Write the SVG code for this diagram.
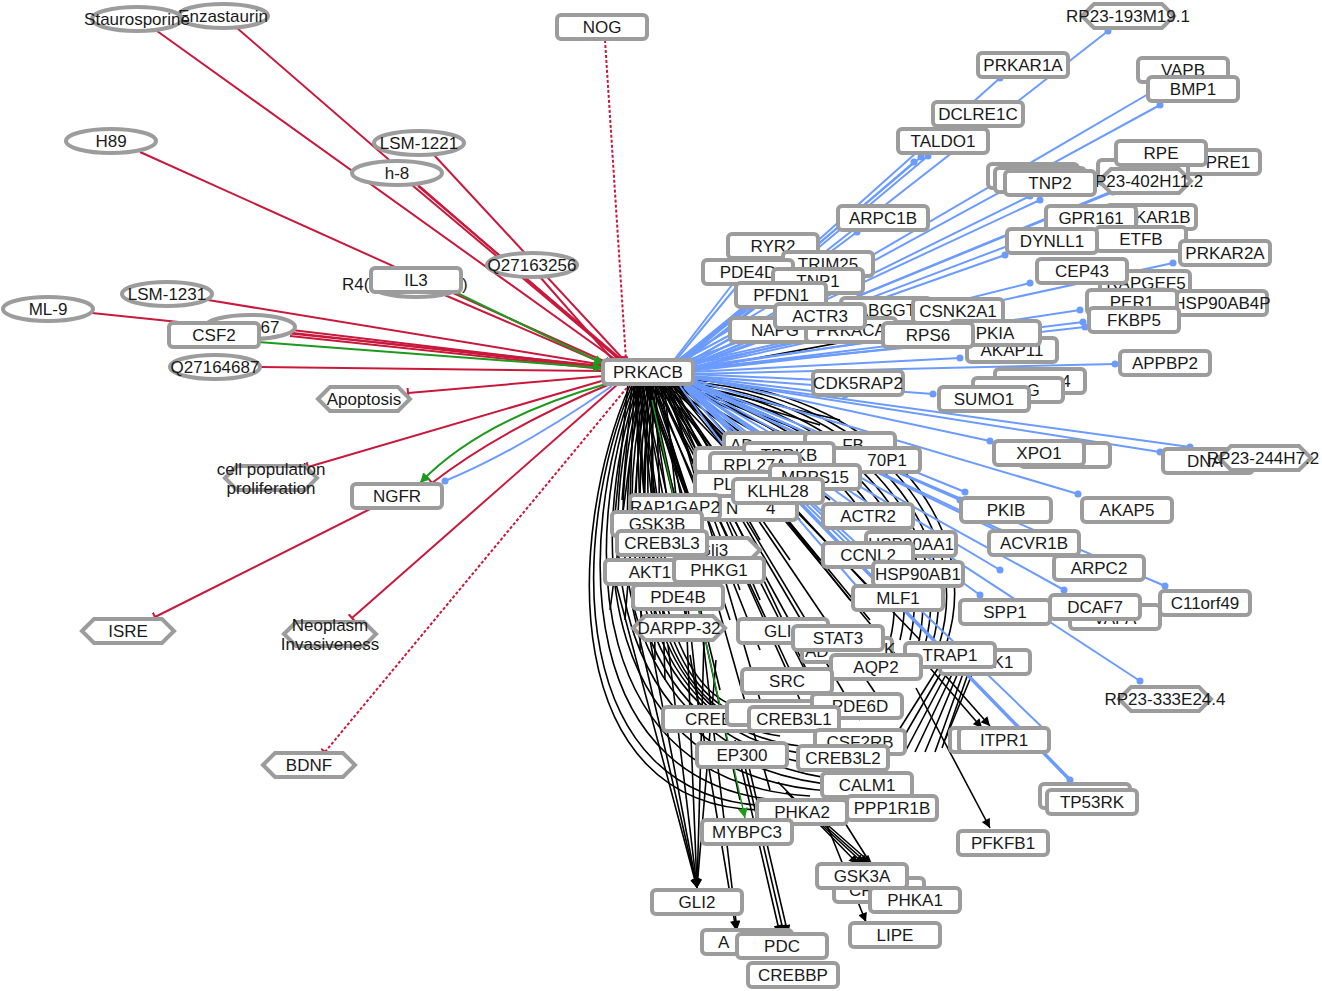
<svg xmlns="http://www.w3.org/2000/svg" xmlns:xlink="http://www.w3.org/1999/xlink" width="1322" height="991" viewBox="0 0 1322 991">
<style>
.n{fill:#fff;stroke:#9c9c9c;stroke-width:4}
.t{font-family:"Liberation Sans",Arial,sans-serif;font-size:17px;fill:#1a1a1a;text-anchor:middle}
.s{text-anchor:start}
.e{text-anchor:end}
.r{fill:none;stroke:#c8193c;stroke-width:2;marker-end:url(#tee)}
.rd{fill:none;stroke:#c8193c;stroke-width:2;stroke-dasharray:3 2;marker-end:url(#tee)}
.g{fill:none;stroke:#1d9a1d;stroke-width:2;marker-end:url(#ga)}
.b{fill:none;stroke:#6b9bff;stroke-width:2;marker-end:url(#dot)}
.k{fill:none;stroke:#000;stroke-width:1.6}
.ka{fill:none;stroke:#000;stroke-width:1.6;marker-end:url(#ka)}
</style>
<defs>
<marker id="tee" viewBox="0 0 4 10" refX="2" refY="5" markerWidth="4" markerHeight="10" orient="auto" markerUnits="userSpaceOnUse"><path d="M2,0V10" stroke="#c8193c" stroke-width="2"/></marker>
<marker id="ga" viewBox="0 0 10 10" refX="10" refY="5" markerWidth="10" markerHeight="10" orient="auto" markerUnits="userSpaceOnUse"><path d="M0,0L10,5L0,10z" fill="#1d9a1d"/></marker>
<marker id="ka" viewBox="0 0 10 10" refX="10" refY="5" markerWidth="10" markerHeight="9" orient="auto" markerUnits="userSpaceOnUse"><path d="M0,0L10,5L0,10z" fill="#000"/></marker>
<marker id="dot" viewBox="0 0 8 8" refX="4" refY="4" markerWidth="8" markerHeight="8" markerUnits="userSpaceOnUse"><circle cx="4" cy="4" r="3.5" fill="#6b9bff"/></marker>
<polygon id="hx" class="n" points="-46,0 -34,-12 34,-12 46,0 34,12 -34,12"/>
</defs>
<rect width="1322" height="991" fill="#fff"/>
<g id="connectors">
<!-- black -->
<path class="k" d="M692,370L990,315"/>
<path class="k" d="M630,385C564,540 560,806 760,810"/>
<path class="k" d="M632,385C568,540 566,800 770,806"/>
<path class="k" d="M634,385C574,540 576,792 790,801"/>
<path class="k" d="M636,385C580,540 586,784 810,796"/>
<path class="k" d="M638,385C586,540 596,776 830,791"/>
<path class="k" d="M640,385C592,540 606,768 845,786"/>
<path class="k" d="M642,385C598,540 616,758 850,781"/>
<path class="k" d="M644,385C604,540 626,748 830,766"/>
<path class="k" d="M646,385C610,540 634,738 820,756"/>
<path class="k" d="M648,385C616,540 642,728 800,746"/>
<path class="k" d="M650,385C622,540 650,718 780,736"/>
<path class="k" d="M652,385C628,540 656,706 760,726"/>
<path class="k" d="M654,385C634,540 662,694 745,716"/>
<path class="k" d="M656,385C640,540 668,684 735,706"/>
<path class="k" d="M692,380C872,390 988,520 946,645"/>
<path class="k" d="M692,382C862,395 978,520 939,645"/>
<path class="k" d="M692,384C852,400 968,520 932,645"/>
<path class="k" d="M690,386C842,405 958,520 925,645"/>
<path class="k" d="M690,388C832,410 948,520 918,645"/>
<path class="k" d="M688,390C822,415 938,520 910,640"/>
<path class="k" d="M686,390C812,420 928,525 900,640"/>
<path class="k" d="M684,390C802,425 918,530 890,640"/>
<path class="k" d="M636,384L640,515"/>
<path class="k" d="M640,384L660,515"/>
<path class="k" d="M644,384L690,505"/>
<path class="k" d="M646,384L700,530"/>
<path class="k" d="M648,384L712,560"/>
<path class="k" d="M650,384L680,585"/>
<path class="k" d="M652,384L730,620"/>
<path class="k" d="M654,384L760,650"/>
<path class="k" d="M656,384L790,670"/>
<path class="k" d="M658,384L800,700"/>
<path class="k" d="M660,384L820,700"/>
<path class="k" d="M662,384L860,720"/>
<path class="k" d="M664,384L700,720"/>
<path class="k" d="M666,384L880,700"/>
<path class="k" d="M668,384L760,700"/>
<path class="k" d="M670,384L840,740"/>
<path class="k" d="M672,384L900,660"/>
<path class="k" d="M674,384L920,640"/>
<path class="k" d="M676,384L870,620"/>
<path class="k" d="M678,384L850,600"/>
<path class="k" d="M634,384L650,560"/>
<path class="k" d="M638,384L670,590"/>
<path class="k" d="M642,384L690,640"/>
<path class="k" d="M646,384L720,690"/>
<path class="k" d="M650,384L740,800"/>
<path class="k" d="M655,384L770,790"/>
<path class="k" d="M660,384L800,640"/>
<path class="k" d="M664,384L830,660"/>
<path class="k" d="M668,384L790,560"/>
<path class="k" d="M672,384L760,540"/>
<path class="k" d="M676,384L820,560"/>
<path class="k" d="M680,384L880,600"/>
<path class="k" d="M632,384L622,500"/>
<path class="k" d="M634,384L630,500"/>
<path class="k" d="M637,384L645,500"/>
<path class="k" d="M639,384L652,500"/>
<path class="k" d="M642,384L668,500"/>
<path class="k" d="M645,384L676,500"/>
<path class="k" d="M648,384L684,500"/>
<path class="k" d="M651,384L694,480"/>
<path class="k" d="M654,384L702,470"/>
<path class="k" d="M657,384L710,460"/>
<path class="k" d="M660,384L718,455"/>
<path class="k" d="M663,384L726,450"/>
<path class="k" d="M666,384L735,445"/>
<path class="k" d="M669,384L745,440"/>
<path class="k" d="M672,384L760,435"/>
<path class="k" d="M675,384L780,432"/>
<path class="k" d="M678,384L800,430"/>
<path class="k" d="M682,384L820,425"/>
<path class="k" d="M686,384L840,420"/>
<path class="k" d="M640,384L610,610"/>
<path class="k" d="M644,384L625,620"/>
<path class="k" d="M648,384L640,650"/>
<path class="k" d="M652,384L655,660"/>
<path class="k" d="M656,384L665,680"/>
<path class="k" d="M660,384L700,600"/>
<path class="k" d="M664,384L740,590"/>
<path class="k" d="M668,384L760,600"/>
<path class="k" d="M672,384L800,520"/>
<path class="k" d="M676,384L830,500"/>
<path class="ka" d="M628,384L614,524"/>
<path class="ka" d="M615,580L697,888"/>
<path class="ka" d="M632,605L697,888"/>
<path class="ka" d="M650,640L697,888"/>
<path class="ka" d="M668,645L697,888"/>
<path class="ka" d="M686,610L697,888"/>
<path class="ka" d="M704,640L697,888"/>
<path class="ka" d="M716,660L697,888"/>
<path class="ka" d="M690,655L736,930"/>
<path class="ka" d="M703,640L737,930"/>
<path class="ka" d="M735,740L780,934"/>
<path class="ka" d="M740,745L784,934"/>
<path class="ka" d="M745,750L788,934"/>
<path class="ka" d="M778,782L858,864"/>
<path class="ka" d="M786,792L864,864"/>
<path class="ka" d="M796,800L868,864"/>
<path class="ka" d="M806,806L872,864"/>
<path class="ka" d="M825,820L866,922"/>
<path class="k" d="M840,815L886,888"/>
<path class="ka" d="M936,665L990,726"/>
<path class="ka" d="M930,668L982,728"/>
<path class="ka" d="M916,688L990,828"/>
<path class="k" d="M940,665L885,752"/>
<path class="k" d="M945,666L895,752"/>
<path class="k" d="M950,667L905,752"/>
<path class="k" d="M955,668L915,752"/>
<path class="k" d="M960,668L925,752"/>
<path class="k" d="M965,668L935,752"/>
<path class="k" d="M970,668L942,748"/>
<path class="k" d="M975,667L945,740"/>
<!-- blue -->
<path class="b" d="M684,362L1108,31"/>
<path class="b" d="M683,361L1000,78"/>
<path class="b" d="M686,363L1160,105"/>
<path class="b" d="M686,364L1150,93"/>
<path class="b" d="M680,361L921,157"/>
<path class="b" d="M681,362L914,162"/>
<path class="b" d="M682,362L928,156"/>
<path class="b" d="M686,365L1040,200"/>
<path class="b" d="M686,366L1030,196"/>
<path class="b" d="M688,366L1113,192"/>
<path class="b" d="M688,366L1125,186"/>
<path class="b" d="M682,363L857,232"/>
<path class="b" d="M688,367L1005,255"/>
<path class="b" d="M688,367L1050,230"/>
<path class="b" d="M690,368L1173,263"/>
<path class="b" d="M689,368L1030,283"/>
<path class="b" d="M690,369L1080,310"/>
<path class="b" d="M690,370L1083,322"/>
<path class="b" d="M690,371L1085,327"/>
<path class="b" d="M690,372L960,358"/>
<path class="b" d="M692,374L1115,364"/>
<path class="b" d="M692,376L933,394"/>
<path class="b" d="M692,377L990,441"/>
<path class="b" d="M692,378L1160,452"/>
<path class="b" d="M692,378L1190,447"/>
<path class="b" d="M690,380L965,492"/>
<path class="b" d="M690,381L960,500"/>
<path class="b" d="M690,379L1078,494"/>
<path class="b" d="M688,382L1165,586"/>
<path class="b" d="M688,382L1064,590"/>
<path class="b" d="M686,383L980,595"/>
<path class="b" d="M686,384L1140,681"/>
<path class="b" d="M684,384L1070,780" style="stroke-width:3.5"/>
<path class="b" d="M686,384L1045,730"/>
<path class="b" d="M676,360L760,258"/>
<path class="b" d="M674,360L735,281"/>
<path class="b" d="M678,360L800,272"/>
<path class="b" d="M678,361L795,290"/>
<path class="b" d="M676,362L752,300"/>
<path class="b" d="M680,363L795,322"/>
<path class="b" d="M676,364L745,327"/>
<path class="b" d="M682,365L830,332"/>
<path class="b" d="M684,366L915,318"/>
<path class="b" d="M686,368L900,338"/>
<path class="b" d="M688,369L965,342"/>
<path class="b" d="M688,374L820,380"/>
<path class="b" d="M688,376L845,395"/>
<path class="b" d="M684,384L775,443"/>
<path class="b" d="M684,385L790,470"/>
<path class="b" d="M686,385L840,505"/>
<path class="b" d="M684,386L848,545"/>
<path class="b" d="M686,386L880,565"/>
<path class="b" d="M684,387L860,590"/>
<path class="b" d="M680,386L750,482"/>
<path class="b" d="M688,384L1000,570"/>
<path class="b" d="M690,382L1000,532"/>
<path class="b" d="M690,382L1060,558"/>
<path class="b" d="M612,386Q520,450 445,481"/>
<!-- red -->
<path class="r" d="M157,31L616,360"/>
<path class="r" d="M237,28L620,360"/>
<path class="r" d="M434,155L624,360"/>
<path class="r" d="M412,185L620,360"/>
<path class="r" d="M418,186L622,360"/>
<path class="r" d="M140,152L606,362"/>
<path class="r" d="M540,277L613,360"/>
<path class="r" d="M440,293L605,364"/>
<path class="r" d="M208,300L604,365"/>
<path class="r" d="M92,313L603,366"/>
<path class="r" d="M292,330L603,367"/>
<path class="r" d="M293,333L603,368"/>
<path class="r" d="M290,336L603,369"/>
<path class="r" d="M261,367L603,371"/>
<path class="r" d="M604,376L408,393"/>
<path class="r" d="M605,380L308,467"/>
<path class="r" d="M610,384Q500,430 432,483"/>
<path class="r" d="M372,508L155,617"/>
<path class="r" d="M618,384L352,618"/>
<path class="rd" d="M630,384L325,752"/>
<path class="rd" d="M605,40L626,360"/>
<!-- green -->
<path class="g" d="M455,292L604,364"/>
<path class="g" d="M258,342L603,368"/>
<path class="g" d="M606,384Q480,420 420,483"/>
<path class="g" d="M652,400L745,818" style="stroke-width:1.4"/>
</g>
<g id="nodes">
<g id="Enzastaurin"><ellipse class="n" cx="223" cy="16" rx="45" ry="12"/><text class="t" x="223" y="22">Enzastaurin</text></g>
<g id="Staurosporine"><ellipse class="n" cx="137" cy="19" rx="45" ry="12"/><text class="t" x="137" y="25">Staurosporine</text></g>
<g id="NOG"><rect class="n" x="557" y="15" width="90" height="24" rx="4"/><text class="t" x="602" y="33">NOG</text></g>
<g id="H89"><ellipse class="n" cx="111" cy="141" rx="45" ry="12"/><text class="t" x="111" y="147">H89</text></g>
<g id="LSM-1221"><ellipse class="n" cx="419" cy="143" rx="45" ry="12"/><text class="t" x="419" y="149">LSM-1221</text></g>
<g id="h-8"><ellipse class="n" cx="397" cy="173" rx="45" ry="12"/><text class="t" x="397" y="179">h-8</text></g>
<g id="Q27163256"><ellipse class="n" cx="532" cy="265" rx="45" ry="12"/><text class="t" x="532" y="271">Q27163256</text></g>
<g id="R4"><ellipse class="n" cx="416" cy="285" rx="45" ry="12"/><text class="t s" x="342" y="290">R4(</text><text class="t s" x="462" y="290">)</text></g>
<g id="IL3"><rect class="n" x="371" y="268" width="90" height="24" rx="4"/><text class="t" x="416" y="286">IL3</text></g>
<g id="LSM-1231"><ellipse class="n" cx="167" cy="294" rx="45" ry="12"/><text class="t" x="167" y="300">LSM-1231</text></g>
<g id="ML-9"><ellipse class="n" cx="48" cy="309" rx="45" ry="12"/><text class="t" x="48" y="315">ML-9</text></g>
<g id="E67"><ellipse class="n" cx="250" cy="327" rx="45" ry="12"/><text class="t" x="270" y="333">67</text></g>
<g id="CSF2"><rect class="n" x="169" y="323" width="90" height="24" rx="4"/><text class="t" x="214" y="341">CSF2</text></g>
<g id="Q27164687"><ellipse class="n" cx="215" cy="367" rx="45" ry="12"/><text class="t" x="215" y="373">Q27164687</text></g>
<g id="Apoptosis"><use href="#hx" x="364" y="399"/><text class="t" x="364" y="405">Apoptosis</text></g>
<g id="cellpop"><use href="#hx" x="271" y="478"/><text class="t" x="271" y="475">cell population</text><text class="t" x="271" y="494">proliferation</text></g>
<g id="NGFR"><rect class="n" x="352" y="484" width="90" height="24" rx="4"/><text class="t" x="397" y="502">NGFR</text></g>
<g id="ISRE"><use href="#hx" x="128" y="631"/><text class="t" x="128" y="637">ISRE</text></g>
<g id="Neoplasm"><use href="#hx" x="330" y="634"/><text class="t" x="330" y="631">Neoplasm</text><text class="t" x="330" y="650">Invasiveness</text></g>
<g id="BDNF"><use href="#hx" x="309" y="765"/><text class="t" x="309" y="771">BDNF</text></g>
<g id="PRKACB"><rect class="n" x="603" y="360" width="90" height="24" rx="4"/><text class="t" x="648" y="378">PRKACB</text></g>

<g id="RP23-193M19.1"><use href="#hx" x="1128" y="16"/><text class="t" x="1128" y="22">RP23-193M19.1</text></g>
<g id="PRKAR1A"><rect class="n" x="978" y="53" width="90" height="24" rx="4"/><text class="t" x="1023" y="71">PRKAR1A</text></g>
<g id="VAPB"><rect class="n" x="1138" y="58" width="90" height="24" rx="4"/><text class="t" x="1183" y="76">VAPB</text></g>
<g id="BMP1"><rect class="n" x="1148" y="77" width="90" height="24" rx="4"/><text class="t" x="1193" y="95">BMP1</text></g>
<g id="DCLRE1C"><rect class="n" x="933" y="102" width="90" height="24" rx="4"/><text class="t" x="978" y="120">DCLRE1C</text></g>
<g id="TALDO1"><rect class="n" x="898" y="129" width="90" height="24" rx="4"/><text class="t" x="943" y="147">TALDO1</text></g>
<g id="PRE1"><rect class="n" x="1170" y="150" width="90" height="24" rx="4"/><text class="t" x="1228" y="168">PRE1</text></g>
<g id="hidA"><rect class="n" x="1098" y="160" width="90" height="24" rx="4"/></g>
<g id="RPE"><rect class="n" x="1116" y="141" width="90" height="24" rx="4"/><text class="t" x="1161" y="159">RPE</text></g>
<g id="RP23-402H11.2"><use href="#hx" x="1145" y="181"/><text class="t" x="1143" y="187">RP23-402H11.2</text></g>
<g id="hidB"><rect class="n" x="988" y="164" width="90" height="24" rx="4"/></g>
<g id="hidC"><rect class="n" x="995" y="168" width="90" height="24" rx="4"/></g>
<g id="TNP2"><rect class="n" x="1005" y="171" width="90" height="24" rx="4"/><text class="t" x="1050" y="189">TNP2</text></g>
<g id="ARPC1B"><rect class="n" x="838" y="206" width="90" height="24" rx="4"/><text class="t" x="883" y="224">ARPC1B</text></g>
<g id="PRKAR1B"><rect class="n" x="1106" y="205" width="90" height="24" rx="4"/><text class="t" x="1151" y="223">PRKAR1B</text></g>
<g id="GPR161"><rect class="n" x="1046" y="206" width="90" height="24" rx="4"/><text class="t" x="1091" y="224">GPR161</text></g>
<g id="ETFB"><rect class="n" x="1096" y="227" width="90" height="24" rx="4"/><text class="t" x="1141" y="245">ETFB</text></g>
<g id="DYNLL1"><rect class="n" x="1007" y="229" width="90" height="24" rx="4"/><text class="t" x="1052" y="247">DYNLL1</text></g>
<g id="PRKAR2A"><rect class="n" x="1180" y="241" width="90" height="24" rx="4"/><text class="t" x="1225" y="259">PRKAR2A</text></g>
<g id="RAPGEF5"><rect class="n" x="1100" y="271" width="90" height="24" rx="4"/><text class="t" x="1146" y="289">RAPGEF5</text></g>
<g id="CEP43"><rect class="n" x="1037" y="259" width="90" height="24" rx="4"/><text class="t" x="1082" y="277">CEP43</text></g>
<g id="HSP90AB4P"><rect class="n" x="1177" y="291" width="90" height="24" rx="4"/><text class="t" x="1222" y="309">HSP90AB4P</text></g>
<g id="PER1"><rect class="n" x="1087" y="290" width="90" height="24" rx="4"/><text class="t" x="1132" y="308">PER1</text></g>
<g id="FKBP5"><rect class="n" x="1089" y="308" width="90" height="24" rx="4"/><text class="t" x="1134" y="326">FKBP5</text></g>
<g id="RYR2"><rect class="n" x="728" y="234" width="90" height="24" rx="4"/><text class="t" x="773" y="252">RYR2</text></g>
<g id="TRIM25"><rect class="n" x="783" y="252" width="90" height="24" rx="4"/><text class="t" x="828" y="270">TRIM25</text></g>
<g id="PDE4D"><rect class="n" x="703" y="260" width="90" height="24" rx="4"/><text class="t" x="748" y="278">PDE4D</text></g>
<g id="TNP1"><rect class="n" x="773" y="269" width="90" height="24" rx="4"/><text class="t" x="818" y="287">TNP1</text></g>
<g id="PFDN1"><rect class="n" x="736" y="283" width="90" height="24" rx="4"/><text class="t" x="781" y="301">PFDN1</text></g>
<g id="RABGGTB"><rect class="n" x="841" y="298" width="90" height="24" rx="4"/><text class="t" x="886" y="316">RABGGTB</text></g>
<g id="NAPG"><rect class="n" x="730" y="318" width="90" height="24" rx="4"/><text class="t" x="775" y="336">NAPG</text></g>
<g id="PRKACA"><rect class="n" x="806" y="318" width="90" height="24" rx="4"/><text class="t" x="851" y="336">PRKACA</text></g>
<g id="ACTR3"><rect class="n" x="775" y="304" width="90" height="24" rx="4"/><text class="t" x="820" y="322">ACTR3</text></g>
<g id="CSNK2A1"><rect class="n" x="913" y="299" width="90" height="24" rx="4"/><text class="t" x="958" y="317">CSNK2A1</text></g>
<g id="AKAP11"><rect class="n" x="967" y="338" width="90" height="24" rx="4"/><text class="t" x="1012" y="356">AKAP11</text></g>
<g id="PKIA"><rect class="n" x="950" y="321" width="90" height="24" rx="4"/><text class="t" x="995" y="339">PKIA</text></g>
<g id="RPS6"><rect class="n" x="883" y="323" width="90" height="24" rx="4"/><text class="t" x="928" y="341">RPS6</text></g>
<g id="APPBP2"><rect class="n" x="1120" y="351" width="90" height="24" rx="4"/><text class="t" x="1165" y="369">APPBP2</text></g>
<g id="CDK5RAP2"><rect class="n" x="813" y="371" width="90" height="24" rx="4"/><text class="t" x="858" y="389">CDK5RAP2</text></g>
<g id="N4x"><rect class="n" x="995" y="369" width="90" height="24" rx="4"/><text class="t" x="1066" y="387">4</text></g>
<g id="NGx"><rect class="n" x="973" y="378" width="90" height="24" rx="4"/><text class="t" x="1033" y="396">G</text></g>
<g id="SUMO1"><rect class="n" x="939" y="387" width="90" height="24" rx="4"/><text class="t" x="984" y="405">SUMO1</text></g>
<g id="XPOb"><rect class="n" x="1020" y="443" width="90" height="24" rx="4"/></g>
<g id="XPO1"><rect class="n" x="994" y="441" width="90" height="24" rx="4"/><text class="t" x="1039" y="459">XPO1</text></g>
<g id="DNA"><rect class="n" x="1163" y="449" width="90" height="24" rx="4"/><text class="t s" x="1187" y="467">DNA</text></g>
<g id="RP23-244H7.2"><use href="#hx" x="1265" y="458"/><text class="t" x="1263" y="464">RP23-244H7.2</text></g>
<g id="PKIB"><rect class="n" x="961" y="498" width="90" height="24" rx="4"/><text class="t" x="1006" y="516">PKIB</text></g>
<g id="AKAP5"><rect class="n" x="1082" y="498" width="90" height="24" rx="4"/><text class="t" x="1127" y="516">AKAP5</text></g>
<g id="ACVR1B"><rect class="n" x="989" y="531" width="90" height="24" rx="4"/><text class="t" x="1034" y="549">ACVR1B</text></g>
<g id="ARPC2"><rect class="n" x="1054" y="556" width="90" height="24" rx="4"/><text class="t" x="1099" y="574">ARPC2</text></g>
<g id="VAPA"><rect class="n" x="1070" y="605" width="90" height="24" rx="4"/><text class="t" x="1115" y="624">VAPA</text></g>
<g id="DCAF7"><rect class="n" x="1050" y="595" width="90" height="24" rx="4"/><text class="t" x="1095" y="613">DCAF7</text></g>
<g id="C11orf49"><rect class="n" x="1160" y="591" width="90" height="24" rx="4"/><text class="t" x="1205" y="609">C11orf49</text></g>
<g id="SPP1"><rect class="n" x="960" y="600" width="90" height="24" rx="4"/><text class="t" x="1005" y="618">SPP1</text></g>
<g id="RP23-333E24.4"><use href="#hx" x="1165" y="699"/><text class="t" x="1165" y="705">RP23-333E24.4</text></g>
<g id="K1x"><rect class="n" x="940" y="650" width="90" height="24" rx="4"/><text class="t" x="1003" y="668">K1</text></g>
<g id="TRAP1"><rect class="n" x="905" y="643" width="90" height="24" rx="4"/><text class="t" x="950" y="661">TRAP1</text></g>
<g id="ITPR1b"><rect class="n" x="950" y="728" width="90" height="24" rx="4"/></g>
<g id="ITPR1"><rect class="n" x="959" y="728" width="90" height="24" rx="4"/><text class="t" x="1004" y="746">ITPR1</text></g>
<g id="TP53RKb"><rect class="n" x="1040" y="784" width="90" height="24" rx="4"/></g>
<g id="TP53RK"><rect class="n" x="1047" y="790" width="90" height="24" rx="4"/><text class="t" x="1092" y="808">TP53RK</text></g>
<g id="PFKFB1"><rect class="n" x="958" y="831" width="90" height="24" rx="4"/><text class="t" x="1003" y="849">PFKFB1</text></g>

<g id="ADx"><rect class="n" x="724" y="433" width="90" height="24" rx="4"/><text class="t s" x="730" y="451">AD</text></g>
<g id="FBx"><rect class="n" x="805" y="433" width="90" height="24" rx="4"/><text class="t" x="853" y="451">FB</text></g>
<g id="P70x"><rect class="n" x="830" y="448" width="90" height="24" rx="4"/><text class="t e" x="907" y="466">70P1</text></g>
<g id="blank1"><rect class="n" x="695" y="448" width="90" height="24" rx="4"/></g>
<g id="TPRKB"><rect class="n" x="744" y="443" width="90" height="24" rx="4"/><text class="t" x="789" y="461">TPRKB</text></g>
<g id="RPL27A"><rect class="n" x="710" y="453" width="90" height="24" rx="4"/><text class="t" x="755" y="471">RPL27A</text></g>
<g id="PLx"><rect class="n" x="695" y="472" width="90" height="24" rx="4"/><text class="t s" x="713" y="490">PL</text></g>
<g id="MRPS15"><rect class="n" x="770" y="465" width="90" height="24" rx="4"/><text class="t" x="815" y="483">MRPS15</text></g>
<g id="N4"><rect class="n" x="707" y="496" width="90" height="24" rx="4"/><text class="t s" x="726" y="514">N</text><text class="t s" x="766" y="514">4</text></g>
<g id="KLHL28"><rect class="n" x="733" y="479" width="90" height="24" rx="4"/><text class="t" x="778" y="497">KLHL28</text></g>
<g id="RAP1GAP2"><rect class="n" x="630" y="495" width="90" height="24" rx="4"/><text class="t" x="675" y="513">RAP1GAP2</text></g>
<g id="GSK3B"><rect class="n" x="612" y="512" width="90" height="24" rx="4"/><text class="t" x="657" y="530">GSK3B</text></g>
<g id="ACTR2"><rect class="n" x="823" y="504" width="90" height="24" rx="4"/><text class="t" x="868" y="522">ACTR2</text></g>
<g id="HSP90AA1"><rect class="n" x="866" y="532" width="90" height="24" rx="4"/><text class="t" x="911" y="550">HSP90AA1</text></g>
<g id="CCNL2"><rect class="n" x="823" y="543" width="90" height="24" rx="4"/><text class="t" x="868" y="561">CCNL2</text></g>
<g id="Gli3"><use href="#hx" x="714" y="550"/><text class="t" x="713" y="556">Gli3</text></g>
<g id="CREB3L3"><rect class="n" x="617" y="531" width="90" height="24" rx="4"/><text class="t" x="662" y="549">CREB3L3</text></g>
<g id="AKT1"><rect class="n" x="605" y="560" width="90" height="24" rx="4"/><text class="t" x="650" y="578">AKT1</text></g>
<g id="PHKG1"><rect class="n" x="674" y="558" width="90" height="24" rx="4"/><text class="t" x="719" y="576">PHKG1</text></g>
<g id="HSP90AB1"><rect class="n" x="873" y="562" width="90" height="24" rx="4"/><text class="t" x="918" y="580">HSP90AB1</text></g>
<g id="PDE4B"><rect class="n" x="633" y="585" width="90" height="24" rx="4"/><text class="t" x="678" y="603">PDE4B</text></g>
<g id="MLF1"><rect class="n" x="853" y="586" width="90" height="24" rx="4"/><text class="t" x="898" y="604">MLF1</text></g>
<g id="DARPP-32"><use href="#hx" x="679" y="628"/><text class="t" x="679" y="634">DARPP-32</text></g>
<g id="GLIx"><rect class="n" x="738" y="619" width="90" height="24" rx="4"/><text class="t s" x="764" y="637">GLI</text></g>
<g id="ADKx"><rect class="n" x="802" y="638" width="90" height="24" rx="4"/><text class="t s" x="805" y="657">AD</text><text class="t s" x="884" y="655">K</text></g>
<g id="STAT3"><rect class="n" x="793" y="626" width="90" height="24" rx="4"/><text class="t" x="838" y="644">STAT3</text></g>
<g id="AQP2"><rect class="n" x="831" y="655" width="90" height="24" rx="4"/><text class="t" x="876" y="673">AQP2</text></g>
<g id="SRC"><rect class="n" x="742" y="669" width="90" height="24" rx="4"/><text class="t" x="787" y="687">SRC</text></g>
<g id="CREBx"><rect class="n" x="663" y="707" width="90" height="24" rx="4"/><text class="t s" x="685" y="725">CREB</text></g>
<g id="blank2"><rect class="n" x="727" y="701" width="90" height="24" rx="4"/></g>
<g id="PDE6D"><rect class="n" x="812" y="694" width="90" height="24" rx="4"/><text class="t" x="860" y="712">PDE6D</text></g>
<g id="CREB3L1"><rect class="n" x="749" y="707" width="90" height="24" rx="4"/><text class="t" x="794" y="725">CREB3L1</text></g>
<g id="CSF2RB"><rect class="n" x="815" y="730" width="90" height="24" rx="4"/><text class="t" x="860" y="748">CSF2RB</text></g>
<g id="EP300"><rect class="n" x="697" y="743" width="90" height="24" rx="4"/><text class="t" x="742" y="761">EP300</text></g>
<g id="CREB3L2"><rect class="n" x="798" y="746" width="90" height="24" rx="4"/><text class="t" x="843" y="764">CREB3L2</text></g>
<g id="CALM1"><rect class="n" x="822" y="773" width="90" height="24" rx="4"/><text class="t" x="867" y="791">CALM1</text></g>
<g id="PPP1R1B"><rect class="n" x="847" y="796" width="90" height="24" rx="4"/><text class="t" x="892" y="814">PPP1R1B</text></g>
<g id="PHKA2"><rect class="n" x="757" y="800" width="90" height="24" rx="4"/><text class="t" x="802" y="818">PHKA2</text></g>
<g id="MYBPC3"><rect class="n" x="702" y="820" width="90" height="24" rx="4"/><text class="t" x="747" y="838">MYBPC3</text></g>
<g id="CRx"><rect class="n" x="834" y="878" width="90" height="24" rx="4"/><text class="t s" x="849" y="896">CR</text></g>
<g id="GSK3A"><rect class="n" x="817" y="864" width="90" height="24" rx="4"/><text class="t" x="862" y="882">GSK3A</text></g>
<g id="PHKA1"><rect class="n" x="870" y="888" width="90" height="24" rx="4"/><text class="t" x="915" y="906">PHKA1</text></g>
<g id="LIPE"><rect class="n" x="850" y="923" width="90" height="24" rx="4"/><text class="t" x="895" y="941">LIPE</text></g>
<g id="GLI2"><rect class="n" x="652" y="890" width="90" height="24" rx="4"/><text class="t" x="697" y="908">GLI2</text></g>
<g id="Ax"><rect class="n" x="702" y="930" width="90" height="24" rx="4"/><text class="t s" x="718" y="948">A</text></g>
<g id="PDC"><rect class="n" x="737" y="934" width="90" height="24" rx="4"/><text class="t" x="782" y="952">PDC</text></g>
<g id="CREBBP"><rect class="n" x="748" y="963" width="90" height="24" rx="4"/><text class="t" x="793" y="981">CREBBP</text></g>
</g>
</svg>
